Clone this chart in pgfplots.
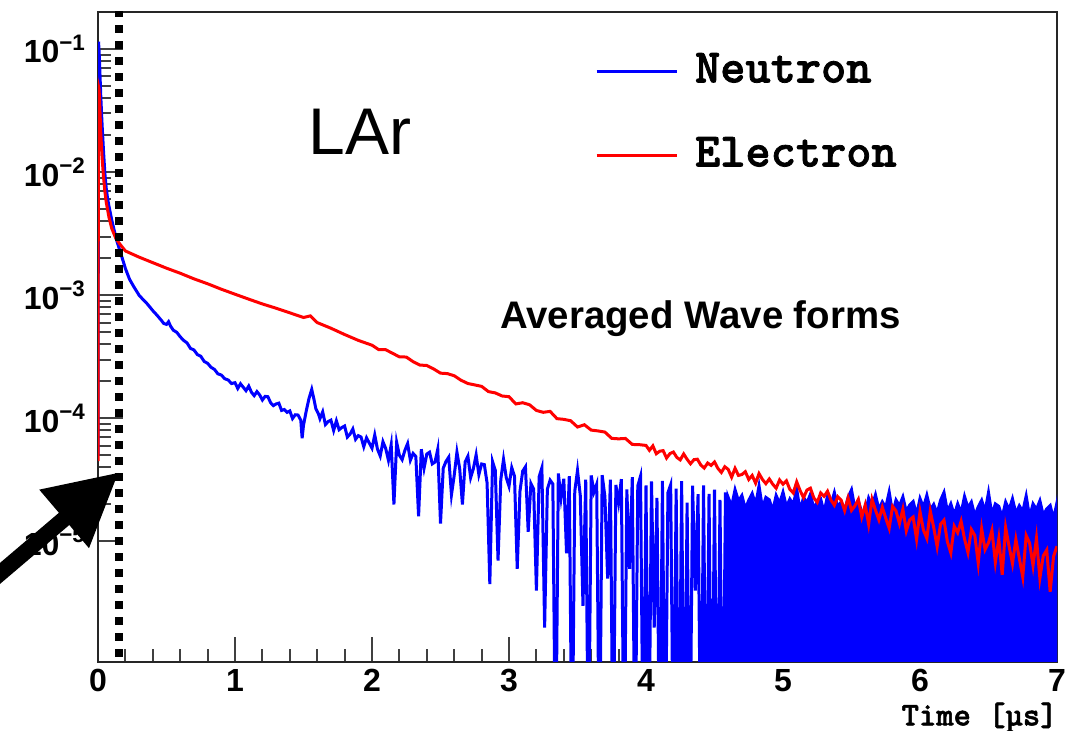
\documentclass[border=0pt]{standalone}
\usepackage{pgfplots}
\pgfplotsset{compat=1.18}
\usepackage{fontspec}
\setmainfont{Liberation Sans}
\newfontfamily\courb{lmmonolt10-bold.otf}[FakeBold=1.6]
\usetikzlibrary{arrows.meta}

\begin{document}
\begin{tikzpicture}
\begin{axis}[
  scale only axis, width=479.5pt, height=325pt,
  ymode=log, xmin=0, xmax=7, ymin=1.05e-6, ymax=0.2,
  axis line style={black!85, line width=1.1pt},
  tick style={black!75, line width=1pt},
  tick align=inside,
  xtick pos=bottom, ytick pos=left,
  xtick={0,1,2,3,4,5,6,7}, xticklabels={0,1,2,3,4,5,6,7}, minor x tick num=4,
  ytick={1e-5,1e-4,1e-3,1e-2,1e-1},
  major tick length=12.5pt, minor tick length=6.5pt,
  xticklabel style={font=\bfseries\fontsize{16}{18}\selectfont, yshift=-1.5pt, inner sep=2pt},
  yticklabel style={font=\bfseries\fontsize{16}{18}\selectfont, xshift=-2.5pt},
  yticklabel={\pgfmathparse{int(round(\tick/-2.302585093))}\textbf{10\textsuperscript{−\pgfmathresult}}},
  legend image code/.code={\draw[#1, line width=1.4pt] (0pt,0pt) -- (40pt,0pt); \path (48.5pt,0pt);},
  legend style={draw=none, fill=none, at={(0.518,0.9415)}, anchor=north west,
    font=\courb\fontsize{24}{28}\selectfont, row sep=21pt, inner sep=0pt,
    nodes={inner sep=0pt, text height=16pt, text depth=5pt}},
  legend cell align=left,
]
% Neutron (blue)
\addplot[blue, line width=1.5pt] table {
0.000 5e-5
0.004 0.115
0.010 0.085
0.015 0.060
0.020 0.042
0.030 0.024
0.040 0.015
0.050 0.0098
0.060 0.0074
0.070 0.0061
0.080 0.0053
0.100 0.0041
0.120 0.0033
0.140 0.0027
0.160 0.0023
0.180 0.00195
0.200 0.00165
0.230 0.00135
0.260 0.00118
0.300 0.00100
0.330 0.00092
0.360 0.00085
0.400 0.00075
0.430 0.00069
0.460 0.00063
0.480 0.00059
0.500 0.00058
0.515 0.00061
0.530 0.00056
0.550 0.00052
0.575 0.00050
0.600 0.00046
0.625 0.00043
0.650 0.00041
0.675 0.00037
0.700 0.00036
0.725 0.00033
0.750 0.00032
0.775 0.00029
0.800 0.00028
0.825 0.00026
0.850 0.00025
0.875 0.00023
0.900 0.000225
0.925 0.00021
0.950 0.000205
0.975 0.000192
1.00 1.95e-4
1.02 1.75e-4
1.04 1.91e-4
1.06 1.79e-4
1.08 1.68e-4
1.10 1.83e-4
1.12 1.63e-4
1.14 1.53e-4
1.16 1.65e-4
1.18 1.55e-4
1.20 1.41e-4
1.22 1.51e-4
1.24 1.50e-4
1.26 1.34e-4
1.28 1.27e-4
1.30 1.31e-4
1.32 1.33e-4
1.34 1.16e-4
1.36 1.18e-4
1.38 1.12e-4
1.40 1.15e-4
1.42 9.97e-5
1.44 1.07e-4
1.46 1.065e-4
1.48 9.68e-5
1.49 6.9e-5
1.50 8.8e-5
1.52 1.15e-4
1.54 1.45e-4
1.56 1.72e-4
1.575 1.45e-4
1.59 1.20e-4
1.61 1.08e-4
1.62 9.95e-5
1.64 1.13e-4
1.66 8.91e-5
1.68 9.42e-5
1.70 9.68e-5
1.72 7.98e-5
1.74 9.55e-5
1.76 8.09e-5
1.78 8.43e-5
1.80 8.67e-5
1.82 7.05e-5
1.84 7.45e-5
1.86 8.2e-5
1.88 6.76e-5
1.90 7.24e-5
1.92 7.05e-5
1.94 5.89e-5
1.96 6.95e-5
1.98 6.31e-5
2.00 5.73e-5
2.02 7.33e-5
2.04 5.62e-5
2.06 4.95e-5
2.08 6.46e-5
2.10 5.69e-5
2.12 4.57e-5
2.14 6.1e-5
2.16 2.0e-5
2.18 6.38e-5
2.20 5.01e-5
2.22 4.62e-5
2.24 5.5e-5
2.26 6.24e-5
2.28 4.57e-5
2.30 5.19e-5
2.32 4.9e-5
2.34 1.6e-5
2.36 5.62e-5
2.38 3.94e-5
2.40 5.13e-5
2.42 5.31e-5
2.44 4.27e-5
2.46 4.42e-5
2.48 5.62e-5
2.50 1.4e-5
2.52 3.94e-5
2.54 4.47e-5
2.56 4.84e-5
2.58 2.4e-5
2.60 3.44e-5
2.62 5.32e-5
2.64 3.9e-5
2.66 2.0e-5
2.68 4.43e-5
2.70 4.93e-5
2.72 3.3e-5
2.74 3.91e-5
2.76 5.06e-5
2.78 3.49e-5
2.80 4.26e-5
2.82 4.21e-5
2.84 2.99e-5
2.86 4.5e-6
2.88 4.45e-5
2.90 3.78e-5
2.92 7e-6
2.94 3.18e-5
2.96 4.65e-5
2.98 3.3e-5
3.00 2.81e-5
3.02 3.98e-5
3.04 3.39e-5
3.06 6.0e-6
3.08 2.56e-5
3.10 3.73e-5
3.12 4.04e-5
3.14 1.2e-5
3.16 2.96e-5
3.18 2.67e-5
3.20 4e-6
3.22 3.36e-5
3.24 3.97e-5
3.26 2e-6
3.28 2.66e-5
3.30 3.15e-5
3.32 2.93e-5
3.34 1e-7
3.36 3.57e-5
3.38 2.25e-5
3.40 3.23e-5
3.42 8e-6
3.44 3.39e-5
3.46 1e-7
3.48 2.56e-5
3.50 3.78e-5
3.52 2.38e-5
3.54 3e-6
3.56 3.18e-5
3.58 1e-7
3.60 3.44e-5
3.62 2.52e-5
3.64 2.92e-5
3.66 1e-7
3.68 3.46e-5
3.70 2.32e-5
3.72 5e-6
3.74 3.18e-5
3.76 1e-7
3.78 2.88e-5
3.80 2.07e-5
3.82 3.21e-5
3.84 1e-7
3.86 2.65e-5
3.88 6e-6
3.90 3.33e-5
3.92 1e-7
3.94 2.83e-5
3.96 3.39e-5
3.98 1e-7
4.00 2.85e-5
4.02 1e-7
4.04 3.08e-5
4.06 2e-6
4.08 2.26e-5
4.10 1e-7
4.12 3.1e-5
4.14 1e-7
4.16 2.49e-5
4.18 2.89e-5
4.20 1e-7
4.22 2.69e-5
4.24 1e-7
4.26 3.09e-5
4.28 1e-7
4.30 2.07e-5
4.32 1e-7
4.34 2.84e-5
4.36 4e-6
4.38 2.42e-5
4.40 1e-7
4.42 2.86e-5
4.44 1e-7
4.46 2.44e-5
4.48 1e-7
4.50 2.64e-5
4.52 1e-7
4.54 2.18e-5
4.56 1e-7
4.58 2.5e-5
4.60 1e-7
};
\addlegendentry{Neutron}
% Neutron: dense region that fills down to zero
\addplot[blue, fill=blue, line width=1.5pt, forget plot] table {
4.600 1e-7
4.600 2.28e-5
4.625 1.93e-5
4.650 2.63e-5
4.675 2.13e-5
4.700 2.36e-5
4.725 1.84e-5
4.750 2.16e-5
4.775 2.45e-5
4.800 1.98e-5
4.825 2.82e-5
4.850 1.86e-5
4.875 2.28e-5
4.900 2.18e-5
4.925 1.77e-5
4.950 2.36e-5
4.975 2.04e-5
5.000 2.51e-5
5.025 1.91e-5
5.050 2.21e-5
5.075 1.99e-5
5.100 2.65e-5
5.125 1.78e-5
5.150 2.28e-5
5.175 2.05e-5
5.200 2.42e-5
5.225 1.85e-5
5.250 2.09e-5
5.275 2.21e-5
5.300 1.72e-5
5.325 2.35e-5
5.350 1.99e-5
5.375 2.49e-5
5.400 1.90e-5
5.425 2.10e-5
5.450 1.78e-5
5.475 2.28e-5
5.500 2.63e-5
5.525 1.84e-5
5.550 2.13e-5
5.575 1.72e-5
5.600 1.69e-5
5.625 2.25e-5
5.650 1.94e-5
5.675 2.39e-5
5.700 1.82e-5
5.725 2.10e-5
5.750 1.89e-5
5.775 2.52e-5
5.800 1.70e-5
5.825 2.17e-5
5.850 1.95e-5
5.875 2.30e-5
5.900 1.75e-5
5.925 1.98e-5
5.950 2.11e-5
5.975 1.64e-5
6.000 2.23e-5
6.025 1.89e-5
6.050 2.37e-5
6.075 1.81e-5
6.100 2.00e-5
6.125 1.69e-5
6.150 2.16e-5
6.175 2.50e-5
6.200 1.75e-5
6.225 2.02e-5
6.250 1.64e-5
6.275 2.02e-5
6.300 1.70e-5
6.325 2.32e-5
6.350 1.88e-5
6.375 2.09e-5
6.400 1.62e-5
6.425 1.91e-5
6.450 2.16e-5
6.475 1.75e-5
6.500 2.49e-5
6.525 1.64e-5
6.550 2.02e-5
6.575 1.93e-5
6.600 1.57e-5
6.625 2.09e-5
6.650 1.81e-5
6.675 2.22e-5
6.700 1.69e-5
6.725 1.95e-5
6.750 1.75e-5
6.775 2.34e-5
6.800 1.58e-5
6.825 2.02e-5
6.850 1.82e-5
6.875 2.14e-5
6.900 1.63e-5
6.925 1.84e-5
6.950 1.96e-5
6.975 1.52e-5
7.000 2.07e-5
7.000 1e-7
};
% Electron (red)
\addplot[red, line width=1.5pt] table {
0.000 4.5e-5
0.003 0.050
0.008 0.047
0.015 0.030
0.020 0.021
0.030 0.013
0.040 0.0092
0.050 0.0070
0.060 0.0057
0.080 0.0043
0.100 0.0035
0.130 0.0029
0.160 0.0026
0.200 0.00229
0.300 0.00204
0.400 0.00184
0.500 0.00166
0.600 0.00151
0.700 0.00136
0.800 0.00124
0.900 0.00112
1.000 0.00102
1.100 0.00093
1.200 0.00085
1.300 0.000785
1.400 0.00072
1.500 0.00066
1.550 0.00068
1.600 0.00060
1.700 0.00054
1.800 0.00048
1.900 0.00043
2.00 3.93e-4
2.05 3.61e-4
2.10 3.61e-4
2.15 3.38e-4
2.20 3.16e-4
2.25 3.15e-4
2.30 2.89e-4
2.35 2.71e-4
2.40 2.69e-4
2.45 2.52e-4
2.50 2.33e-4
2.55 2.31e-4
2.60 2.22e-4
2.65 2.04e-4
2.70 1.92e-4
2.75 1.87e-4
2.80 1.82e-4
2.85 1.65e-4
2.90 1.61e-4
2.95 1.52e-4
3.00 1.50e-4
3.05 1.31e-4
3.10 1.34e-4
3.15 1.29e-4
3.20 1.16e-4
3.25 1.12e-4
3.30 1.14e-4
3.35 9.95e-5
3.40 9.82e-5
3.45 9.57e-5
3.50 8.51e-5
3.55 8.88e-5
3.60 8.03e-5
3.65 7.91e-5
3.70 7.74e-5
3.75 6.88e-5
3.80 6.82e-5
3.85 6.87e-5
3.90 6.14e-5
3.95 6.12e-5
4.000 6.03e-5
4.025 5.50e-5
4.050 5.98e-5
4.075 5.16e-5
4.100 5.41e-5
4.125 5.47e-5
4.150 4.76e-5
4.175 5.18e-5
4.200 5.33e-5
4.225 4.82e-5
4.250 4.60e-5
4.275 5.14e-5
4.300 4.65e-5
4.325 4.28e-5
4.350 4.62e-5
4.375 4.66e-5
4.400 4.18e-5
4.425 3.95e-5
4.450 4.34e-5
4.475 4.15e-5
4.500 4.43e-5
4.525 3.92e-5
4.550 3.64e-5
4.575 4.05e-5
4.600 3.85e-5
4.625 3.33e-5
4.650 3.93e-5
4.675 3.44e-5
4.700 3.50e-5
4.725 3.69e-5
4.750 3.19e-5
4.775 3.44e-5
4.800 2.98e-5
4.825 3.56e-5
4.850 3.19e-5
4.875 2.95e-5
4.900 3.22e-5
4.925 2.92e-5
4.950 2.71e-5
4.975 3.16e-5
5.000 2.92e-5
5.025 3.11e-5
5.050 2.65e-5
5.075 2.48e-5
5.100 3.05e-5
5.125 2.59e-5
5.150 2.27e-5
5.175 2.62e-5
5.200 2.71e-5
5.225 2.26e-5
5.250 2.08e-5
5.275 2.48e-5
5.300 2.33e-5
5.325 2.56e-5
5.350 2.17e-5
5.375 1.97e-5
5.400 2.31e-5
5.425 2.16e-5
5.450 1.78e-5
5.475 2.26e-5
5.500 1.79e-5
5.525 1.95e-5
5.550 2.20e-5
5.575 1.58e-5
5.600 1.98e-5
5.625 1.38e-5
5.650 2.20e-5
5.675 1.80e-5
5.700 1.50e-5
5.725 1.90e-5
5.750 1.55e-5
5.775 1.28e-5
5.800 1.93e-5
5.825 1.77e-5
5.850 1.40e-5
5.875 1.83e-5
5.900 1.22e-5
5.925 1.50e-5
5.950 1.58e-5
5.975 1.04e-5
6.000 1.75e-5
6.025 1.24e-5
6.050 1.06e-5
6.075 1.77e-5
6.100 1.30e-5
6.125 9.09e-6
6.150 1.38e-5
6.175 1.49e-5
6.200 9.96e-6
6.225 8.07e-6
6.250 1.33e-5
6.275 1.18e-5
6.300 1.46e-5
6.325 1.05e-5
6.350 8.13e-6
6.375 1.25e-5
6.400 1.12e-5
6.425 6.67e-6
6.450 1.27e-5
6.475 8.60e-6
6.500 9.77e-6
6.525 1.23e-5
6.550 6.77e-6
6.575 1.05e-5
6.600 5.36e-6
6.625 1.30e-5
6.650 9.16e-6
6.675 6.62e-6
6.700 1.04e-5
6.725 7.29e-6
6.750 5.14e-6
6.775 1.12e-5
6.800 9.72e-6
6.825 6.37e-6
6.850 1.06e-5
6.875 5.03e-6
6.900 7.67e-6
6.925 8.53e-6
6.950 3.91e-6
6.975 7.58e-6
7.000 9.16e-6
};
\addlegendentry{Electron}
% dotted marker line
\addplot[black, line width=4pt, dash pattern=on 4pt off 4pt, forget plot] coordinates {(0.153,0.21) (0.153,1e-6)};

\node[anchor=base west, inner sep=0pt, font=\fontsize{33}{38}\selectfont] at (rel axis cs:0.219,0.78) {LAr};
\node[anchor=base west, inner sep=0pt, font=\bfseries\fontsize{19.2}{22}\selectfont] at (rel axis cs:0.419,0.5138) {Averaged Wave forms};

\coordinate (tlab) at (rel axis cs:1.001,-0.0975);
\coordinate (tip) at (axis cs:0.153,3.65e-5);
\coordinate (tail) at (axis cs:-0.95,3.3e-6);
\coordinate (bbBL) at (rel axis cs:-0.1022,-0.10615);
\coordinate (bbTR) at (rel axis cs:1.0292,1.01846);
\end{axis}
\node[anchor=base east, inner sep=0pt, font=\courb\fontsize{16.5}{19}\selectfont] at (tlab) {Time [µs]};
\draw[line width=8pt, -{Triangle[length=36pt, width=36pt]}] (tail) -- (tip);
\pgfresetboundingbox
\path (bbBL) rectangle (bbTR);
\end{tikzpicture}
\end{document}
